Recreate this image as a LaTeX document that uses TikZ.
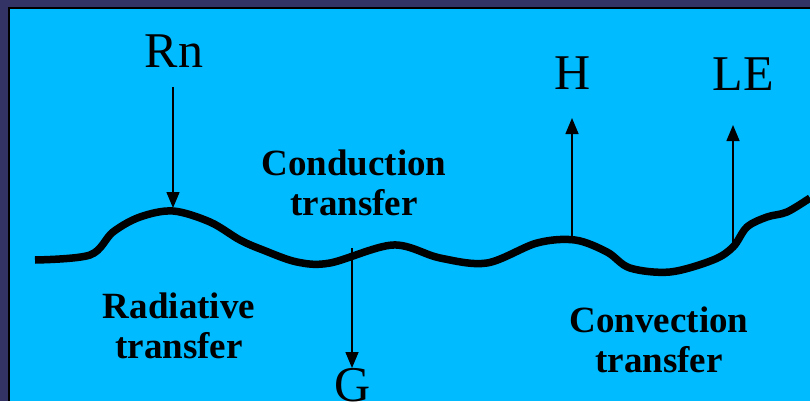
\documentclass[tikz,border=0pt]{standalone}
\usepackage{fontspec}
\setmainfont{Liberation Serif}
\usetikzlibrary{arrows.meta}
\definecolor{navyframe}{RGB}{51,51,102}
\definecolor{skycyan}{RGB}{0,187,255}
\begin{document}
\begin{tikzpicture}[x=1pt,y=-1pt,
  biglabel/.style={font=\fontsize{50}{50}\selectfont, anchor=base, inner sep=0pt},
  boldlabel/.style={font=\fontsize{37}{40}\selectfont\bfseries, align=center, anchor=base, inner sep=0pt},
  flux/.style={line width=1.5pt, -{Triangle[length=16pt,width=13pt]}},
  ground/.style={line width=7.5pt, line join=round}]
\useasboundingbox (0,0) rectangle (810,401);
\fill[navyframe] (0,0) rectangle (810,401);
\fill[black] (7.5,7.5) rectangle (810,401);
\fill[skycyan] (9.5,9.5) rectangle (810,401);
% ground surface
\draw[ground] plot[smooth, tension=0.55] coordinates {
 (35,260) (90,255) (113,232) (140,217) (173,211) (210,222) (240,240) (263,250) (297,262) (330,263)
 (393,245) (440,258) (487,263) (537,243) (575,240) (607,252) (630,268) (670,272)
 (713,260) (733,247) (747,227) (767,217) (787,212) (810,198)};
% labels
\node[biglabel] (rn) at (174,68) {Rn};
\node[biglabel] (h) at (573,90) {H};
\node[biglabel] (le) at (743,91) {LE};
\node[biglabel] (g) at (353,401) {G};
\node[boldlabel] (cond) at (354,215) {Conduction\\transfer};
\node[boldlabel] (rad) at (179,358) {Radiative\\transfer};
\node[boldlabel] (conv) at (659,372) {Convection\\transfer};
% flux anchor points
\coordinate (rntop) at (173,87);
\coordinate (rnsurf) at (173,208);
\coordinate (hsurf) at (572,238);
\coordinate (htip) at (572,118);
\coordinate (lesurf) at (733,245);
\coordinate (letip) at (733,125);
\coordinate (gsurf) at (352,248);
\coordinate (gtip) at (352,368);
\draw[flux] (rntop) -- (rnsurf);
\draw[flux] (hsurf) -- (htip);
\draw[flux] (lesurf) -- (letip);
\draw[flux] (gsurf) -- (gtip);
\end{tikzpicture}
\end{document}
